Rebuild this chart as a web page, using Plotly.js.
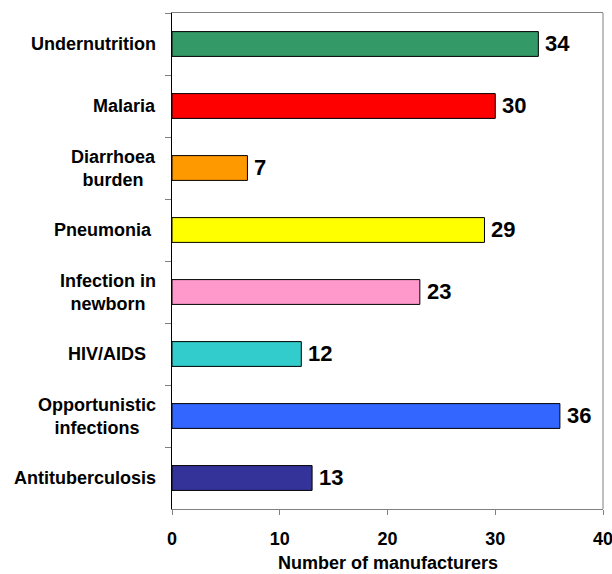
<!DOCTYPE html>
<html>
<head>
<meta charset="utf-8">
<script src="https://cdn.plot.ly/plotly-3.0.1.min.js"></script>
<style>html,body{margin:0;padding:0;background:#fff;}</style>
</head>
<body>
<div id="chart" style="width:612px;height:574px;"></div>
<script>
var categories = ["Undernutrition", "Malaria", "Diarrhoea<br>burden", "Pneumonia\u00a0", "Infection in<br>newborn", "HIV/AIDS\u00a0\u00a0", "Opportunistic<br>infections", "Antituberculosis"];
var values = [34, 30, 7, 29, 23, 12, 36, 13];
var barColors = ["#339966", "#FF0000", "#FF9900", "#FFFF00", "#FF99CC", "#33CCCC", "#3366FF", "#333399"];
var xTicks = [0, 10, 20, 30, 40];
var xTitle = "Number of manufacturers";

var font = "Arial, 'Liberation Sans', sans-serif";
var ids = categories.map(function(c, i){ return "c" + i; });

var trace = {
  type: "bar",
  orientation: "h",
  y: ids,
  x: values,
  marker: {color: barColors, line: {color: "#000000", width: 1}},
  hoverinfo: "none"
};

var catAnnotations = categories.map(function(c, i){
  return {
    xref: "paper", yref: "y", x: 0, y: ids[i], xshift: -14,
    xanchor: "right", yanchor: "middle", align: "center",
    text: "<b>" + c + "</b>", showarrow: false,
    font: {family: font, size: 18, color: "#000"}
  };
});
var valAnnotations = values.map(function(v, i){
  return {
    xref: "x", yref: "y", x: v, y: ids[i], xshift: 5, yshift: 1,
    xanchor: "left", yanchor: "middle",
    text: "<b>" + v + "</b>", showarrow: false,
    font: {family: font, size: 22, color: "#000"}
  };
});
var titleAnnotation = {
  xref: "x", yref: "paper", x: 20, y: 0, yshift: -54,
  xanchor: "center", yanchor: "middle",
  text: "<b>" + xTitle + "</b>", showarrow: false,
  font: {family: font, size: 18, color: "#000"}
};

var layout = {
  width: 612, height: 574,
  margin: {l: 172, r: 9, t: 13, b: 65},
  paper_bgcolor: "#fff", plot_bgcolor: "#fff",
  showlegend: false,
  bargap: 0.6,
  font: {family: font, color: "#000"},
  xaxis: {
    range: [0, 40], tickvals: xTicks, ticktext: xTicks.map(function(v){return "<b>"+v+"</b>";}),
    showgrid: false, zeroline: false,
    showline: true, linecolor: "#808080", linewidth: 1, mirror: true,
    ticks: "outside", ticklen: 5, tickcolor: "#808080",
    ticklabeloverflow: "allow", ticklabelstandoff: 8,
    tickfont: {family: font, size: 18, color: "#000"}
  },
  yaxis: {
    type: "category", categoryorder: "array", categoryarray: ids,
    range: [7.5, -0.5],
    showgrid: false, zeroline: false,
    showline: true, linecolor: "#000", linewidth: 1,
    ticks: "outside", ticklen: 6, tickcolor: "#808080", tickson: "boundaries",
    showticklabels: false
  },
  shapes: [{type: "line", xref: "paper", yref: "paper", x0: 1, x1: 1, y0: 0, y1: 1,
            line: {color: "#808080", width: 1}, layer: "below"}],
  annotations: catAnnotations.concat(valAnnotations, [titleAnnotation])
};

Plotly.newPlot("chart", [trace], layout, {staticPlot: true, displayModeBar: false});
</script>
</body>
</html>
